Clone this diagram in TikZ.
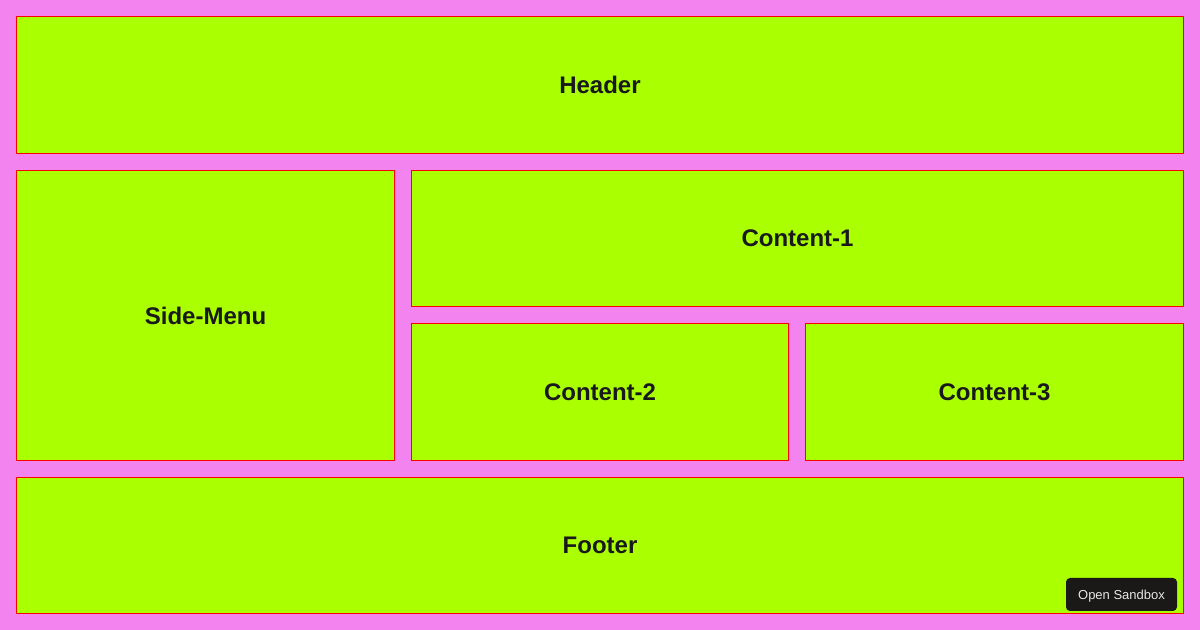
\documentclass[tikz,border=0pt]{standalone}
\usepackage{fontspec}
\setmainfont{Liberation Sans}
\usetikzlibrary{positioning}
\definecolor{pagebg}{HTML}{F283EF}
\definecolor{panelfill}{HTML}{AAFF00}
\definecolor{panelline}{HTML}{FF0000}
\definecolor{btnfill}{HTML}{1A1918}
\definecolor{btntext}{HTML}{E6E6E6}
\tikzset{panel/.style = {draw=panelline, fill=panelfill, line width=0.75pt,
                         inner sep=0, font=\fontsize{18}{20}\selectfont\bfseries,
                         text=black!90}}
\tikzset{btn/.style = {fill=btnfill, rounded corners=3pt, inner sep=0,
                       minimum width=83.25pt, minimum height=24.75pt,
                       text height=7pt, text depth=0pt,
                       font=\fontsize{9.75}{11}\selectfont, text=btntext}}

\begin{document}
\begin{tikzpicture}[x=0.75pt, y=-0.75pt]
      \fill [pagebg] (0, 0) rectangle (1200, 630);
      \useasboundingbox (0, 0) rectangle (1200, 630);

      \node [panel, minimum width=875.25pt, minimum height=102.75pt] (header) at (600, 85) {Header};
      \node [panel, minimum width=283.5pt, minimum height=217.5pt] (sidemenu) at (205.5, 315.5) {Side-Menu};
      \node [panel, minimum width=579pt, minimum height=102pt] (content1) at (797.5, 238.5) {Content-1};
      \node [panel, minimum width=282.75pt, minimum height=102.75pt] (content2) at (600, 392) {Content-2};
      \node [panel, minimum width=283.5pt, minimum height=102.75pt] (content3) at (994.5, 392) {Content-3};
      \node [panel, minimum width=875.25pt, minimum height=102pt] (footer) at (600, 545.5) {Footer};

      \node [btn] (sandbox) at (1121.5, 594.5) {Open Sandbox};
    \end{tikzpicture}
\end{document}
